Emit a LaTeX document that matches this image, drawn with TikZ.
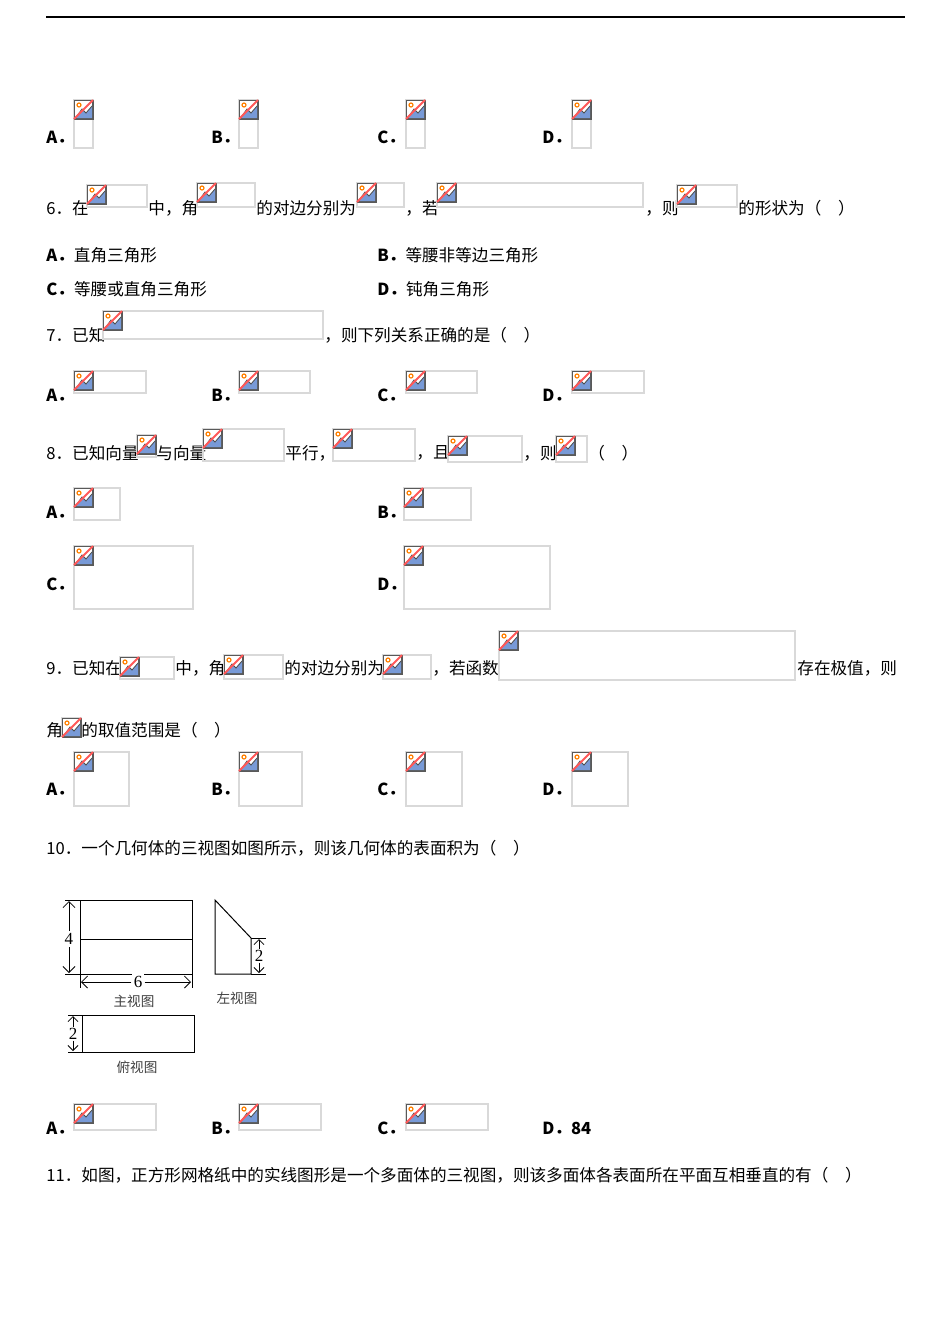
\documentclass[tikz,border=0pt]{standalone}
\usepackage{fontspec}
\setmainfont{Noto Sans CJK SC}
\newfontfamily\numfont{Liberation Serif}
\usetikzlibrary{arrows.meta}
\tikzset{
  phbox/.style={draw=black!15,line width=0.6pt,inner sep=0,outer sep=0,rectangle},
  txt/.style={anchor=west,inner sep=0,font=\fontsize{8.3}{9}\selectfont},
  lab/.style={txt,font=\fontsize{8.3}{9}\selectfont\bfseries},
  fig/.style={line width=0.5pt},
  capt/.style={inner sep=0,font=\fontsize{6.8}{7}\selectfont,text=black!75},
  dnum/.style={fill=white,font=\numfont\fontsize{8.5}{9}\selectfont},
  dim/.style={line width=0.4pt,{Straight Barb[length=3pt]}-{Straight Barb[length=3pt]}},
  icon/.pic={
    \draw[black!65,fill=white,line width=0.6pt] (0.5,0.5) rectangle (19,19);
    \fill[cyan!45!blue!55] (1.5,18) -- (8,9) -- (12,13) -- (18,6) -- (18,18) -- cycle;
    \draw[black!70,line width=0.4pt] (1.5,18) -- (8,9) -- (12,13) -- (18,6);
    \draw[orange,line width=0.6pt] (5,5) circle (2);
    \draw[red!65,line width=1pt] (0,19) -- (19,0);
  }
}
\newcommand\ph[5]{\node[phbox,anchor=north west,minimum width={#4*0.5pt},minimum height={#5*0.5pt}] (#1) at (#2,#3) {};
  \pic at (#1.north west) {icon};}
\begin{document}
\begin{tikzpicture}[x=0.5pt,y=-0.5pt]
\useasboundingbox (0,0) rectangle (950,1344);
\draw[line width=0.6pt] (46,17) -- (905,17);
% row top
\node[lab] (la) at (46,137) {A．}; \ph{pa}{74}{100}{19}{48}
\node[lab] (lb) at (211,137) {B．}; \ph{pb}{239}{100}{19}{48}
\node[lab] (lc) at (377,137) {C．}; \ph{pc}{406}{100}{19}{48}
\node[lab] (ld) at (542,137) {D．}; \ph{pd}{572}{100}{19}{48}
% Q6
\node[txt] (q6a) at (46,208) {6．在}; \ph{q6p1}{87}{185}{60}{22}
\node[txt] (q6b) at (148,208) {中，角}; \ph{q6p2}{197}{183}{58}{24}
\node[txt] (q6c) at (256,208) {的对边分别为}; \ph{q6p3}{357}{183}{47}{24}
\node[txt] (q6d) at (405,208) {，若}; \ph{q6p4}{437}{183}{206}{24}
\node[txt] (q6e) at (645,208) {，则}; \ph{q6p5}{677}{185}{60}{22}
\node[txt] (q6f) at (738,208) {的形状为（　）};
\node[txt] (o6a) at (46,255) {\textbf{A．}直角三角形};
\node[txt] (o6b) at (377,255) {\textbf{B．}等腰非等边三角形};
\node[txt] (o6c) at (46,289) {\textbf{C．}等腰或直角三角形};
\node[txt] (o6d) at (377,289) {\textbf{D．}钝角三角形};
% Q7
\node[txt] (q7a) at (46,335) {7．已知}; \ph{q7p}{103}{311}{220}{28}
\node[txt] (q7b) at (324,335) {，则下列关系正确的是（　）};
\node[lab] (l7a) at (46,395) {A．}; \ph{p7a}{74}{371}{72}{22}
\node[lab] (l7b) at (211,395) {B．}; \ph{p7b}{239}{371}{71}{22}
\node[lab] (l7c) at (377,395) {C．}; \ph{p7c}{406}{371}{71}{22}
\node[lab] (l7d) at (542,395) {D．}; \ph{p7d}{572}{371}{72}{22}
% Q8
\node[txt] (q8a) at (46,453) {8．已知向量}; \ph{q8p1}{137}{435}{19}{22}
\node[txt] (q8b) at (156,453) {与向量}; \ph{q8p2}{203}{429}{81}{32}
\node[txt] (q8c) at (285,453) {平行，}; \ph{q8p3}{333}{429}{82}{32}
\node[txt] (q8d) at (416,453) {，且}; \ph{q8p4}{448}{436}{74}{26}
\node[txt] (q8e) at (523,453) {，则}; \ph{q8p5}{556}{436}{31}{26}
\node[txt] (q8f) at (588,453) {（　）};
\node[lab] (l8a) at (46,512) {A．}; \ph{p8a}{74}{488}{46}{32}
\node[lab] (l8b) at (377,512) {B．}; \ph{p8b}{404}{488}{67}{32}
\node[lab] (l8c) at (46,584) {C．}; \ph{p8c}{74}{546}{119}{63}
\node[lab] (l8d) at (377,584) {D．}; \ph{p8d}{404}{546}{146}{63}
% Q9
\node[txt] (q9a) at (46,668) {9．已知在}; \ph{q9p1}{120}{657}{54}{22}
\node[txt] (q9b) at (175,668) {中，角}; \ph{q9p2}{224}{655}{59}{24}
\node[txt] (q9c) at (284,668) {的对边分别为}; \ph{q9p3}{383}{655}{48}{24}
\node[txt] (q9d) at (432,668) {，若函数}; \ph{q9p4}{499}{631}{296}{49}
\node[txt] (q9e) at (797,668) {存在极值，则};
\node[txt] (q9f) at (46,730) {角}; \ph{q9p5}{62}{718}{19}{18}
\node[txt] (q9g) at (81,730) {的取值范围是（　）};
\node[lab] (l9a) at (46,789) {A．}; \ph{p9a}{74}{752}{55}{54}
\node[lab] (l9b) at (211,789) {B．}; \ph{p9b}{239}{752}{63}{54}
\node[lab] (l9c) at (377,789) {C．}; \ph{p9c}{406}{752}{56}{54}
\node[lab] (l9d) at (542,789) {D．}; \ph{p9d}{572}{752}{56}{54}
% Q10
\node[txt] (q10) at (46,848) {10．一个几何体的三视图如图所示，则该几何体的表面积为（　）};
% figure: front view
\draw[fig] (80,900) rectangle (192,974);
\draw[fig] (80,939) -- (192,939);
\draw[fig] (65,900) -- (80,900) (65,974) -- (80,974);
\node[dnum,inner sep=1pt] (n4) at (69,939) {4};
\draw[dim,-{Straight Barb[length=3pt]}] (n4.north) -- (69,901);
\draw[dim,-{Straight Barb[length=3pt]}] (n4.south) -- (69,973);
\draw[fig] (80,974) -- (80,988) (192,974) -- (192,988);
\node[dnum,inner sep=1pt] (n6) at (138,982) {6};
\draw[dim,-{Straight Barb[length=3pt]}] (n6.west) -- (81,982);
\draw[dim,-{Straight Barb[length=3pt]}] (n6.east) -- (191,982);
\node[capt] (c1) at (134,1001) {主视图};
% side view
\draw[fig] (215,900) -- (251,938) -- (251,974) -- (215,974) -- cycle;
\draw[fig] (251,938) -- (266,938) (251,974) -- (266,974);
\node[dnum,inner sep=0.3pt] (n2a) at (259,956) {2};
\draw[dim,-{Straight Barb[length=2.5pt]}] (n2a.north) -- (259,939);
\draw[dim,-{Straight Barb[length=2.5pt]}] (n2a.south) -- (259,973);
\node[capt] (c2) at (237,998) {左视图};
% top view
\draw[fig] (82,1015) rectangle (194,1052);
\draw[fig] (68,1015) -- (82,1015) (68,1052) -- (82,1052);
\node[dnum,inner sep=0.3pt] (n2b) at (73,1034) {2};
\draw[dim,-{Straight Barb[length=2.5pt]}] (n2b.north) -- (73,1016);
\draw[dim,-{Straight Barb[length=2.5pt]}] (n2b.south) -- (73,1051);
\node[capt] (c3) at (137,1067) {俯视图};
% answers
\node[lab] (l10a) at (46,1128) {A．}; \ph{p10a}{74}{1104}{82}{26}
\node[lab] (l10b) at (211,1128) {B．}; \ph{p10b}{239}{1104}{82}{26}
\node[lab] (l10c) at (377,1128) {C．}; \ph{p10c}{406}{1104}{82}{26}
\node[lab] (l10d) at (542,1128) {D．84};
% Q11
\node[txt] (q11) at (46,1175) {11．如图，正方形网格纸中的实线图形是一个多面体的三视图，则该多面体各表面所在平面互相垂直的有（　）};
\end{tikzpicture}
\end{document}
